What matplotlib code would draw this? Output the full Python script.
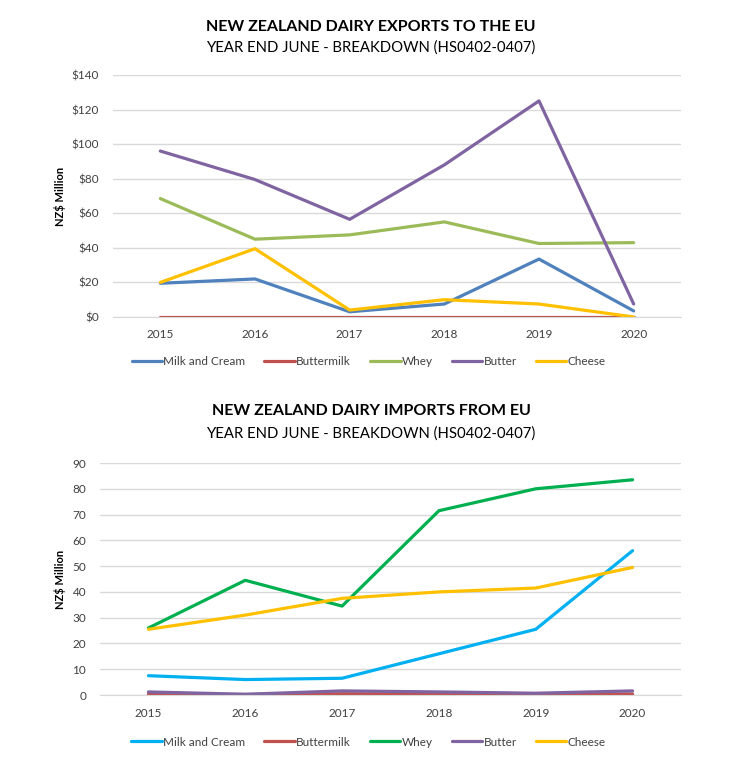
import numpy as np
import matplotlib
matplotlib.use('Agg')
import matplotlib.pyplot as plt
from matplotlib.ticker import FuncFormatter

plt.rcParams['font.family'] = ['Lato', 'DejaVu Sans']

years = [2015, 2016, 2017, 2018, 2019, 2020]
series_names = ['Milk and Cream', 'Buttermilk', 'Whey', 'Butter', 'Cheese']

# Exports to the EU (NZ$ million)
exp_milk = [19.5, 22.0, 3.0, 7.5, 33.5, 3.5]
exp_buttermilk = [0.0, 0.0, 0.0, 0.0, 0.0, 0.0]
exp_whey = [68.5, 45.0, 47.5, 55.0, 42.5, 43.0]
exp_butter = [96.0, 79.5, 56.5, 88.0, 125.0, 7.5]
exp_cheese = [20.0, 39.5, 4.0, 10.0, 7.5, 0.0]

# Imports from the EU (NZ$ million)
imp_milk = [7.5, 6.0, 6.5, 16.0, 25.5, 56.0]
imp_buttermilk = [0.3, 0.2, 0.5, 0.4, 0.2, 0.4]
imp_whey = [26.0, 44.5, 34.5, 71.5, 80.0, 83.5]
imp_butter = [1.2, 0.3, 1.6, 1.2, 0.7, 1.6]
imp_cheese = [25.5, 31.0, 37.5, 40.0, 41.5, 49.5]

exp_colors = ['#4F81BD', '#C0504D', '#9BBB59', '#8064A2', '#FFC000']
imp_colors = ['#00B0F0', '#C0504D', '#00B050', '#8064A2', '#FFC000']

grid_c = '#D9D9D9'
text_c = '#404040'


def draw_panel(ax, data, colors, ymax, ystep, fmt, label_x, legend_xy):
    for vals, name, c in zip(data, series_names, colors):
        ax.plot(years, vals, color=c, lw=2.3, label=name, solid_capstyle='round')
    ax.set_xlim(2014.5, 2020.5)
    ax.set_ylim(0, ymax)
    ax.set_yticks(np.arange(0, ymax + 1, ystep))
    ax.set_xticks(years)
    ax.yaxis.set_major_formatter(FuncFormatter(fmt))
    ax.grid(axis='y', color=grid_c, lw=1)
    ax.set_axisbelow(True)
    for s in ['top', 'right', 'left']:
        ax.spines[s].set_visible(False)
    ax.spines['bottom'].set_color(grid_c)
    ax.tick_params(length=0, labelsize=8.5, labelcolor=text_c)
    ax.tick_params(axis='x', pad=9)
    ax.tick_params(axis='y', pad=10)
    ax.set_ylabel('NZ$ Million', fontsize=8, fontweight='bold')
    ax.yaxis.set_label_coords(label_x, 0.5)
    ax.legend(loc='center', bbox_to_anchor=legend_xy, ncol=5, frameon=False,
              fontsize=8.5, handlelength=2.6, handletextpad=0.1, columnspacing=1.6,
              labelcolor=text_c)


def titles(fig, y1, y2, text):
    fig.text(0.5, y1, text, ha='center', va='center', fontsize=11.5, fontweight='bold')
    fig.text(0.5, y2, 'YEAR END JUNE - BREAKDOWN (HS0402-0407)', ha='center', va='center',
             fontsize=10.7)


fig = plt.figure(figsize=(7.42, 7.69), dpi=100)

ax1 = fig.add_axes([0.1523, 0.5878, 0.7655, 0.3147])
draw_panel(ax1, [exp_milk, exp_buttermilk, exp_whey, exp_butter, exp_cheese], exp_colors,
           140, 20, lambda v, p: '${:.0f}'.format(v), -0.083, (0.45, -0.186))
titles(fig, 0.965, 0.9376, 'NEW ZEALAND DAIRY EXPORTS TO THE EU')

ax2 = fig.add_axes([0.1348, 0.0962, 0.783, 0.3017])
draw_panel(ax2, [imp_milk, imp_buttermilk, imp_whey, imp_butter, imp_cheese], imp_colors,
           90, 10, lambda v, p: '{:.0f}'.format(v), -0.058, (0.462, -0.203))
titles(fig, 0.4655, 0.4356, 'NEW ZEALAND DAIRY IMPORTS FROM EU')

fig.savefig('out.png', dpi=100, facecolor='white')
